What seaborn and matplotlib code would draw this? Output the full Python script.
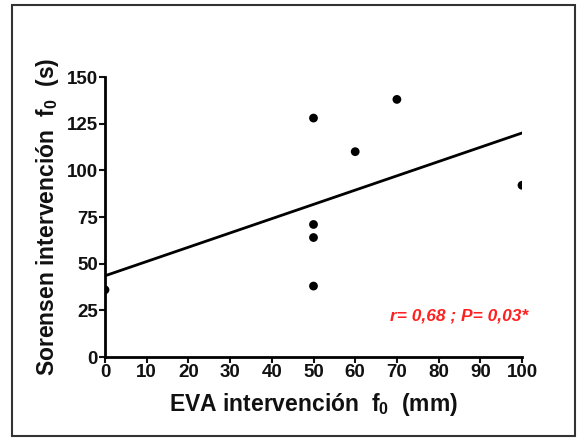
import numpy as np
import pandas as pd
import matplotlib
matplotlib.use("Agg")
import matplotlib.pyplot as plt
import seaborn as sns
from matplotlib.patches import Rectangle

# values
eva = [0, 50, 50, 50, 50, 60, 70, 100]
sorensen = [36, 128, 71, 64, 38, 110, 138, 92]
x_ticks = list(range(0, 101, 10))
y_ticks = [0, 25, 50, 75, 100, 125, 150]

df = pd.DataFrame({"eva": eva, "sorensen": sorensen})

sns.set_style("ticks")
plt.rcParams["font.family"] = ["Liberation Sans", "DejaVu Sans"]
plt.rcParams["font.weight"] = "bold"
plt.rcParams["mathtext.default"] = "regular"

fig = plt.figure(figsize=(5.81, 4.38), dpi=100)
fig.patches.append(Rectangle((12 / 581, 2 / 438), 563 / 581, 431 / 438,
                             transform=fig.transFigure, fill=False,
                             edgecolor="#333333", linewidth=1.5))
ax = fig.add_axes([105 / 581, 1 - 357 / 438, 417 / 581, 280 / 438])

sns.regplot(data=df, x="eva", y="sorensen", ax=ax, ci=None, truncate=True,
            scatter_kws={"s": 40, "color": "black", "alpha": 1,
                         "edgecolor": "none", "zorder": 4},
            line_kws={"color": "black", "linewidth": 2})

ax.set_xlim(0, 100)
ax.set_ylim(0, 150)
ax.set_xticks(x_ticks)
ax.set_yticks(y_ticks)
ax.tick_params(axis="both", direction="out", length=4, width=1.5,
               labelsize=13.5, pad=1, colors="#111111")
for lab in ax.get_xticklabels() + ax.get_yticklabels():
    lab.set_fontweight("bold")
for s in ["left", "bottom"]:
    ax.spines[s].set_linewidth(2)
    ax.spines[s].set_color("black")
sns.despine(ax=ax)
ax.patch.set_alpha(0)

ax.set_xlabel(r"EVA intervención  f$_0$  (mm)", fontsize=16.5, fontweight="bold",
              labelpad=7, color="#111111")
ax.set_ylabel(r"Sorensen intervención  f$_0$  (s)", fontsize=16.5, fontweight="bold",
              labelpad=4, color="#111111")

ax.text(85, 22, "r= 0,68 ; P= 0,03*", color="#ff2020", fontsize=12.5,
        fontweight="bold", fontstyle="italic", ha="center", va="center")

fig.savefig("out.png", dpi=100)
